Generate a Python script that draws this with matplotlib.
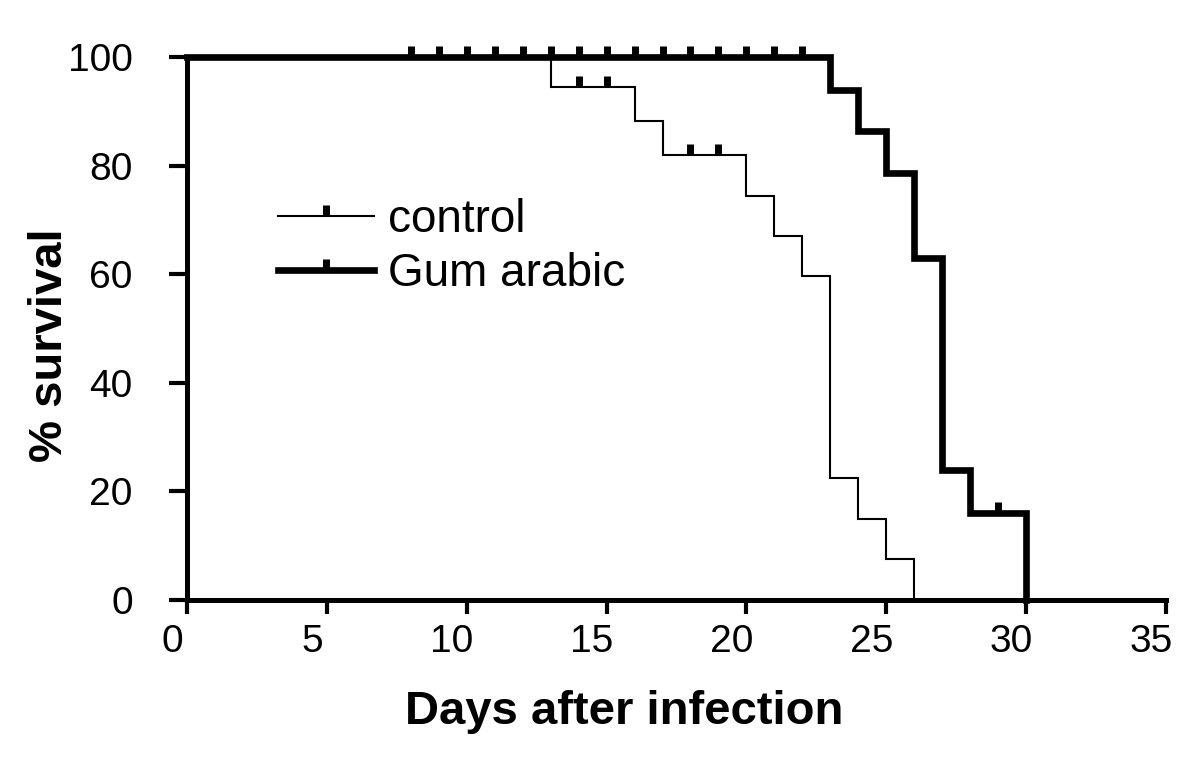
import matplotlib
matplotlib.use("Agg")
import matplotlib.pyplot as plt
from matplotlib.lines import Line2D
from matplotlib.transforms import ScaledTranslation

plt.rcParams["font.family"] = ["Liberation Sans", "DejaVu Sans"]

# Kaplan-Meier steps
control_days = [0, 13, 16, 17, 20, 21, 22, 23, 24, 25, 26]
control_surv = [100, 94.4, 88.2, 81.9, 74.4, 67.0, 59.6, 22.4, 15.0, 7.5, 0]
control_cens_days = [14, 15, 18, 19]
control_cens_surv = [94.4, 94.4, 81.9, 81.9]

gum_days = [0, 23, 24, 25, 26, 27, 28, 30]
gum_surv = [100, 94.0, 86.3, 78.6, 62.9, 23.9, 16.1, 0]
gum_cens_days = [8, 9, 10, 11, 12, 13, 14, 15, 16, 17, 18, 19, 20, 21, 22, 29]
gum_cens_surv = [100, 100, 100, 100, 100, 100, 100, 100, 100, 100, 100, 100, 100, 100, 100, 16.1]

x_ticks = [0, 5, 10, 15, 20, 25, 30, 35]
y_ticks = [0, 20, 40, 60, 80, 100]

fig = plt.figure(figsize=(12, 7.57), dpi=100)
ax = fig.add_axes([187 / 1200, 1 - 600 / 757, 979 / 1200, 543 / 757])

thin, thick = 1.5, 4.8
cens = dict(ls="none", marker=2, ms=8, mew=5, color="k", clip_on=False)

ax.step(control_days, control_surv, where="post", color="k", lw=thin,
        clip_on=False, solid_joinstyle="miter")
ax.plot(control_cens_days, control_cens_surv, **cens)
ax.step(gum_days, gum_surv, where="post", color="k", lw=thick,
        clip_on=False, solid_joinstyle="miter")
ax.plot(gum_cens_days, gum_cens_surv, **cens)

ax.set_xlim(0, 35)
ax.set_ylim(0, 100)
ax.set_xticks(x_ticks)
ax.set_yticks(y_ticks)
for s in ["top", "right"]:
    ax.spines[s].set_visible(False)
for s in ["left", "bottom"]:
    ax.spines[s].set_linewidth(3.6)
ax.tick_params(axis="x", length=10, width=3, labelsize=28, pad=7)
ax.tick_params(axis="y", length=13, width=3, labelsize=28, pad=26)

# x tick labels sit a bit left of their ticks in the original
shift = ScaledTranslation(-15 / 100, 0, fig.dpi_scale_trans)
for lab in ax.get_xticklabels():
    lab.set_transform(lab.get_transform() + shift)

fig.text(624 / 1200, 1 - 712 / 757, "Days after infection", ha="center",
         va="center", fontsize=34, fontweight="bold")
fig.text(50 / 1200, 1 - 345 / 757, "% survival", ha="center", va="center",
         rotation=90, fontsize=34, fontweight="bold")

handles = [
    Line2D([], [], color="k", lw=thin, marker=2, ms=8, mew=5),
    Line2D([], [], color="k", lw=thick, marker=2, ms=8, mew=5),
]
ax.legend(handles, ["control", "Gum arabic"], loc="center left",
          bbox_to_anchor=(0.093, 0.65), frameon=False, fontsize=33,
          numpoints=1, handlelength=2.1, handletextpad=0.3,
          labelspacing=0.2, borderpad=0, borderaxespad=0)

fig.savefig("out.png", dpi=100)
